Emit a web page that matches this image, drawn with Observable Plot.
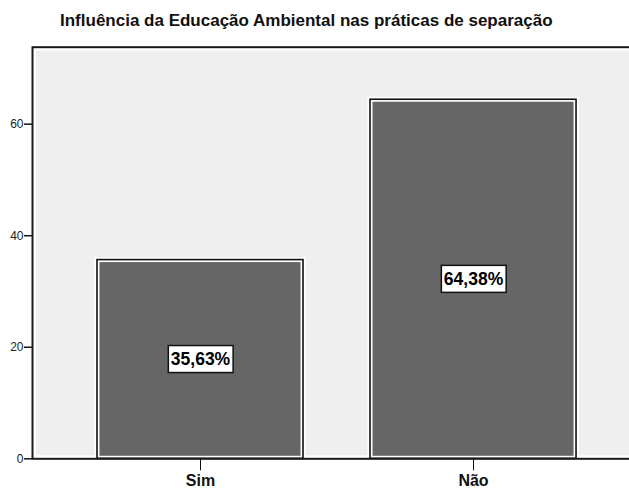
<!DOCTYPE html>
<html>
<head>
<meta charset="utf-8">
<script src="https://cdn.jsdelivr.net/npm/d3@7"></script>
<script src="https://cdn.jsdelivr.net/npm/@observablehq/plot@0.6"></script>
<style>
  html, body { margin: 0; padding: 0; background: #fff; overflow: hidden; width: 629px; height: 489px; }
  #title { font-family: "Liberation Sans", Arial, sans-serif; font-weight: bold; font-size: 17px; color: #111;
           height: 37px; box-sizing: border-box; padding: 12px 0 0 60px; line-height: 18px; white-space: nowrap; }
  #chart svg { display: block; overflow: hidden; }
</style>
</head>
<body>
<div id="title">Influência da Educação Ambiental nas práticas de separação</div>
<div id="chart"></div>
<script>
const categories = ["Sim", "Não"];
const values = [35.63, 64.38];
const yTicks = [0, 20, 40, 60];
const yMax = 73.8;

const data = categories.map((c, i) => ({category: c, value: values[i]}));
const fmt = v => v.toFixed(2).replace(".", ",") + "%";

const chart = Plot.plot({
  width: 629,
  height: 452,
  marginLeft: 32,
  marginRight: 0,
  marginTop: 9.7,
  marginBottom: 30.7,
  style: {fontFamily: "'Liberation Sans', Arial, sans-serif", background: "white", color: "#111", overflow: "hidden"},
  x: {domain: categories, paddingInner: 0.2454, paddingOuter: 0.216, align: 0.551, round: false, label: null},
  y: {domain: [0, yMax], label: null},
  marks: [
    Plot.frame({fill: "#efefef", stroke: null, insetRight: -10}),
    Plot.frame({fill: "none", stroke: "white", strokeWidth: 3, inset: 2, insetRight: -10}),
    Plot.barY(data, {x: "category", y: "value", fill: "#666666", stroke: "white", strokeWidth: 5}),
    Plot.barY(data, {x: "category", y: "value", fill: "none", stroke: "#111", strokeWidth: 1.6}),
    Plot.frame({fill: "none", stroke: "#1a1a1a", strokeWidth: 2, insetRight: -10}),
    Plot.axisY({ticks: yTicks, tickSize: 8, tickPadding: 1, fontSize: 12, tickFormat: d => String(d), label: null, stroke: "#111", strokeWidth: 1.5, fill: "#222"}),
    Plot.axisX({tickSize: 12, tickPadding: 4, fontSize: 16, fontWeight: "bold", label: null, stroke: "#111", strokeWidth: 1, fill: "#111"}),
    Plot.text(data, {x: "category", y: d => d.value / 2, text: d => fmt(d.value), fontSize: 17.5, fontWeight: "bold", fill: "#000"})
  ]
});
document.getElementById("chart").appendChild(chart);

// white boxes behind the value labels
chart.querySelectorAll('g[aria-label="text"] text').forEach(t => {
  const b = t.getBBox();
  const r = document.createElementNS("http://www.w3.org/2000/svg", "rect");
  r.setAttribute("x", b.x - 2.5);
  r.setAttribute("y", b.y + b.height / 2 - 13.5);
  r.setAttribute("width", b.width + 5);
  r.setAttribute("height", 27);
  r.setAttribute("fill", "white");
  r.setAttribute("stroke", "#111");
  r.setAttribute("stroke-width", 1.5);
  const tr = t.getAttribute("transform");
  if (tr) r.setAttribute("transform", tr);
  t.parentNode.insertBefore(r, t);
});
</script>
</body>
</html>
